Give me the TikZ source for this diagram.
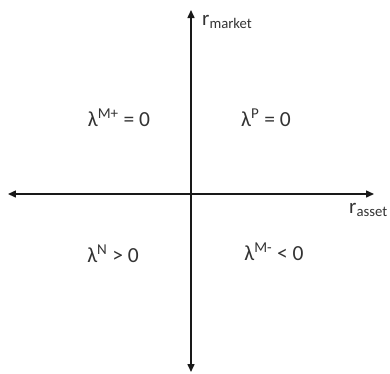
\documentclass[tikz,border=0pt]{standalone}
\usepackage{fontspec}
\setmainfont{Carlito}
\usetikzlibrary{arrows.meta,positioning}

\begin{document}
\begin{tikzpicture}[
        x=1pt, y=1pt,
        axis/.style={{Triangle[length=8pt,width=7pt]}-{Triangle[length=8pt,width=7pt]}, line width=1.5pt, draw=black!90},
        quad/.style={font=\fontsize{21.5}{25}\selectfont, text=black!80, inner sep=0pt},
        axlabel/.style={font=\fontsize{21}{25}\selectfont, text=black!80, inner sep=0pt, anchor=west}
    ]
    \useasboundingbox (-191,-179) rectangle (199,194);
    \coordinate (west) at (-183,0);
    \coordinate (east) at (183,0);
    \coordinate (north) at (0,184);
    \coordinate (south) at (0,-178);

    \draw[axis] (west) -- (east);
    \draw[axis] (south) -- (north);

    \node[axlabel] (rmarket) at (11,172) {r\textsubscript{market}};
    \node[axlabel] (rasset) at (158,-16) {r\textsubscript{asset}};

    \node[quad] (lamMplus) at (-72,76) {λ\textsuperscript{M+} = 0};
    \node[quad] (lamP) at (75,76) {λ\textsuperscript{P} = 0};
    \node[quad] (lamN) at (-78,-60) {λ\textsuperscript{N} > 0};
    \node[quad] (lamMminus) at (83,-58) {λ\textsuperscript{M-} < 0};
\end{tikzpicture}
\end{document}
